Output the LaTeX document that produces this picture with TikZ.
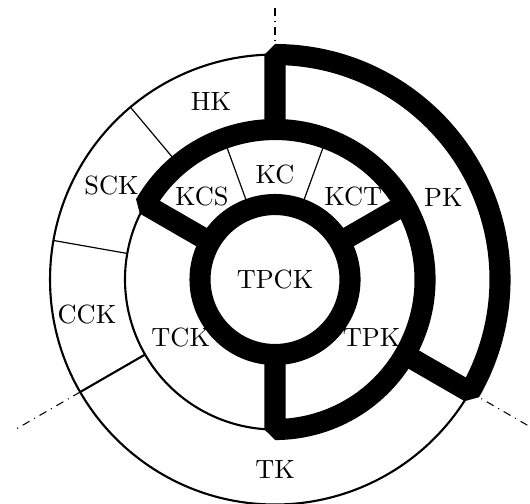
\documentclass[tikz,border=0pt]{standalone}
\begin{document}
\begin{tikzpicture}[
  band/.style={line width=8pt, line join=bevel},
  rim/.style={line width=0.8pt},
  divider/.style={line width=0.45pt},
  axisline/.style={line width=0.4pt, dash dot},
  lbl/.style={inner sep=1pt}
]
\useasboundingbox (-3.667,-2.993) rectangle (3.4,3.727);
% centre and axis end points
\coordinate (O) at (0,0);
\coordinate (a1) at (90:3);  \coordinate (a1e) at (90:3.62);
\coordinate (a2) at (210:3); \coordinate (a2e) at (210:4.03);
\coordinate (a3) at (330:3); \coordinate (a3e) at (330:4.1);
% axis lines
\draw[axisline] (a1) -- (a1e);
\draw[axisline] (a2) -- (a2e);
\draw[axisline] (a3) -- (a3e);
% thin outlines
\draw[rim] (90:3) arc[start angle=90, end angle=330, radius=3];
\draw[rim] (150:2) arc[start angle=150, end angle=270, radius=2];
\draw[divider] (130:2) -- (130:3);
\draw[divider] (170:2) -- (170:3);
\draw[rim] (210:2) -- (210:3);
\draw[divider] (70:1) -- (70:2);
\draw[divider] (110:1) -- (110:2);
% thick outlines
\draw[band] (O) circle[radius=1];
\draw[band] (150:1) -- (150:2) arc[start angle=150, end angle=-90, radius=2] -- (-90:1);
\draw[band] (30:1) -- (30:2);
\draw[band] (90:2) -- (90:3) arc[start angle=90, end angle=-30, radius=3] -- (-30:2);
% labels
\node[lbl] (tpck) at (0,0) {TPCK};
\node[lbl] (kc) at (0,1.4) {KC};
\node[lbl] (kcs) at (-0.977,1.104) {KCS};
\node[lbl] (kct) at (1.044,1.104) {KCT};
\node[lbl] (tck) at (-1.257,-0.777) {TCK};
\node[lbl] (tpk) at (1.288,-0.777) {TPK};
\node[lbl] (hk) at (-0.853,2.38) {HK};
\node[lbl] (sck) at (-2.18,1.26) {SCK};
\node[lbl] (cck) at (-2.507,-0.463) {CCK};
\node[lbl] (tk) at (0,-2.53) {TK};
\node[lbl] (pk) at (2.244,1.093) {PK};
\end{tikzpicture}
\end{document}
